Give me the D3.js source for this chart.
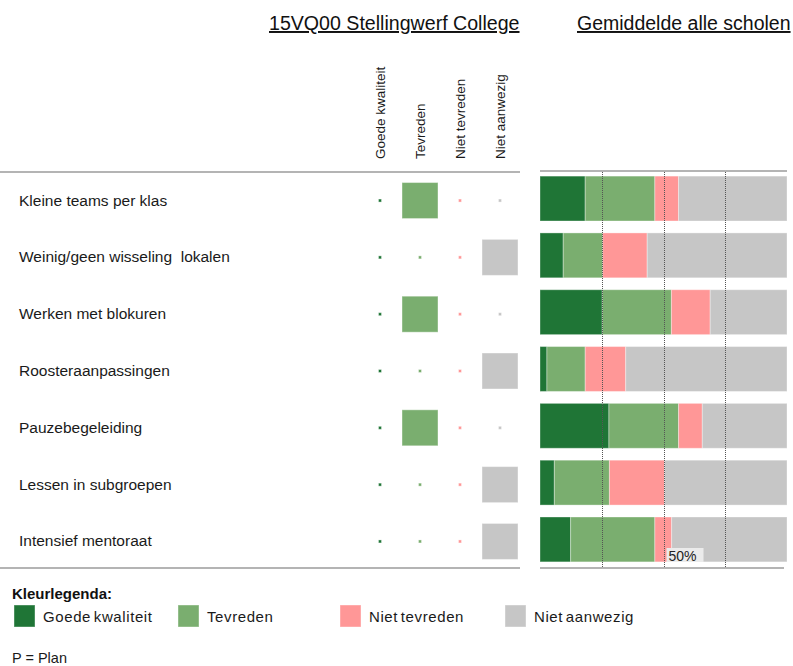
<!DOCTYPE html>
<html>
<head>
<meta charset="utf-8">
<script src="https://cdn.jsdelivr.net/npm/d3@7"></script>
<style>
    body { margin: 0; background: #fff; }
</style>
</head>
<body>
<div id="chart"></div>
<script>
// onderdelen (rijen)
const categories = [
    'Kleine teams per klas',
    'Weinig/geen wisseling  lokalen',
    'Werken met blokuren',
    'Roosteraanpassingen',
    'Pauzebegeleiding',
    'Lessen in subgroepen',
    'Intensief mentoraat'
]
const statuses = ['Goede kwaliteit', 'Tevreden', 'Niet tevreden', 'Niet aanwezig']
const statusColors = ['#1f7536', '#7aae6f', '#ff9797', '#c6c6c6']

// score van de school zelf
const schoolStatus = ['Tevreden', 'Niet aanwezig', 'Tevreden', 'Niet aanwezig', 'Tevreden', 'Niet aanwezig', 'Niet aanwezig']

// gemiddelde alle scholen (%)
const goedeKwaliteit = [18.3, 9.4, 25.2, 2.8, 27.9, 5.8, 12.4]
const tevreden = [28.2, 16.0, 28.0, 15.5, 28.2, 22.3, 34.1]
const nietTevreden = [9.6, 18.0, 15.7, 16.4, 9.6, 22.3, 6.8]
const nietAanwezig = [43.9, 56.6, 31.1, 65.3, 34.3, 49.6, 46.7]

const gridTicks = [25, 50, 75]
const schoolTitle = '15VQ00 Stellingwerf College'
const avgTitle = 'Gemiddelde alle scholen'

const width = 793
const height = 666
const font = '\'Liberation Sans\', Arial, sans-serif'

const svg = d3.select('#chart').append('svg')
    .attr('width', width)
    .attr('height', height)
    .attr('font-family', font)
    .attr('fill', '#1a1a1a')

const y = d3.scaleBand().domain(categories).range([172, 568]).paddingInner(0.21).paddingOuter(0.09)
const colX = d3.scalePoint().domain(statuses).range([380, 500])
const cellSize = d3.scaleLinear().domain([0, 1]).range([3, 36])
const x = d3.scaleLinear().domain([0, 100]).range([540, 787])
const color = d3.scaleOrdinal().domain(statuses).range(statusColors)

// titels
svg.append('text')
    .attr('x', 269).attr('y', 30)
    .attr('font-size', 19.6)
    .attr('text-decoration', 'underline')
    .attr('fill', '#111')
    .text(schoolTitle)
svg.append('text')
    .attr('x', 577).attr('y', 30)
    .attr('font-size', 19.5)
    .attr('text-decoration', 'underline')
    .attr('fill', '#111')
    .text(avgTitle)

// kolomkoppen (verticaal)
svg.append('g').selectAll('text').data(statuses).enter()
    .append('text')
    .attr('transform', d => 'translate(' + (colX(d) + 5) + ',159) rotate(-90)')
    .attr('text-anchor', 'start')
    .attr('font-size', 13.5)
    .text(d => d)

// horizontale lijnen
const lines = [[0, 520, 172], [0, 520, 568], [540, 787, 171], [540, 784, 568]]
svg.append('g').selectAll('line').data(lines).enter()
    .append('line')
    .attr('x1', d => d[0]).attr('x2', d => d[1])
    .attr('y1', d => d[2]).attr('y2', d => d[2])
    .attr('stroke', '#b4b4b4')
    .attr('stroke-width', 2)

// rijlabels
svg.append('g').selectAll('text').data(categories).enter()
    .append('text')
    .attr('x', 19)
    .attr('y', d => y(d) + y.bandwidth() / 2 + 6)
    .attr('font-size', 15.5)
    .style('white-space', 'pre')
    .text(d => d)

// cellen van de school
const cells = []
categories.forEach((c, i) => {
    statuses.forEach(s => {
        cells.push({ cat: c, status: s, value: schoolStatus[i] === s ? 1 : 0 })
    })
})
svg.append('g').selectAll('rect').data(cells).enter()
    .append('rect')
    .attr('x', d => colX(d.status) - cellSize(d.value) / 2)
    .attr('y', d => y(d.cat) + y.bandwidth() / 2 + 1 - cellSize(d.value) / 2)
    .attr('width', d => cellSize(d.value))
    .attr('height', d => cellSize(d.value))
    .attr('fill', d => color(d.status))
    .attr('stroke', '#fff')
    .attr('stroke-opacity', 0.4)
    .attr('stroke-width', 1)

// gestapelde balken gemiddelde
const table = categories.map((c, i) => ({
    cat: c,
    'Goede kwaliteit': goedeKwaliteit[i],
    'Tevreden': tevreden[i],
    'Niet tevreden': nietTevreden[i],
    'Niet aanwezig': nietAanwezig[i]
}))
const stacked = d3.stack().keys(statuses)(table)

svg.append('g').selectAll('g').data(stacked).enter()
    .append('g')
    .attr('fill', d => color(d.key))
    .selectAll('rect').data(d => d).enter()
    .append('rect')
    .attr('x', d => x(d[0]))
    .attr('width', d => x(d[1]) - x(d[0]))
    .attr('y', d => y(d.data.cat) - 1)
    .attr('height', y.bandwidth())
    .attr('stroke', '#fff')
    .attr('stroke-opacity', 0.35)
    .attr('stroke-width', 1)

// label 50%
svg.append('rect')
    .attr('x', x(50) + 3).attr('y', 548)
    .attr('width', 37).attr('height', 14)
    .attr('fill', '#ebebeb')
svg.append('text')
    .attr('x', x(50) + 5).attr('y', 561)
    .attr('font-size', 14)
    .attr('fill', '#222')
    .text('50%')

// gestippelde hulplijnen
svg.append('g').selectAll('line').data(gridTicks).enter()
    .append('line')
    .attr('x1', d => Math.round(x(d)) + 0.5).attr('x2', d => Math.round(x(d)) + 0.5)
    .attr('y1', 172).attr('y2', 568)
    .attr('stroke', '#555')
    .attr('stroke-width', 1)
    .attr('stroke-dasharray', '1,1')

// legenda
svg.append('text')
    .attr('x', 12).attr('y', 599)
    .attr('font-size', 15)
    .attr('font-weight', 'bold')
    .attr('fill', '#111')
    .text('Kleurlegenda:')

const legendX = [14, 178, 340, 505]
const legend = svg.append('g').selectAll('g').data(statuses).enter()
    .append('g')
    .attr('transform', (d, i) => 'translate(' + legendX[i] + ',605)')
legend.append('rect')
    .attr('width', 21).attr('height', 22)
    .attr('fill', d => color(d))
    .attr('stroke', '#fff')
    .attr('stroke-opacity', 0.4)
legend.append('text')
    .attr('x', 29).attr('y', 17)
    .attr('font-size', 15)
    .attr('letter-spacing', 0.6)
    .attr('word-spacing', -2)
    .text(d => d)

svg.append('text')
    .attr('x', 12).attr('y', 663)
    .attr('font-size', 14.5)
    .text('P = Plan')
</script>
</body>
</html>
